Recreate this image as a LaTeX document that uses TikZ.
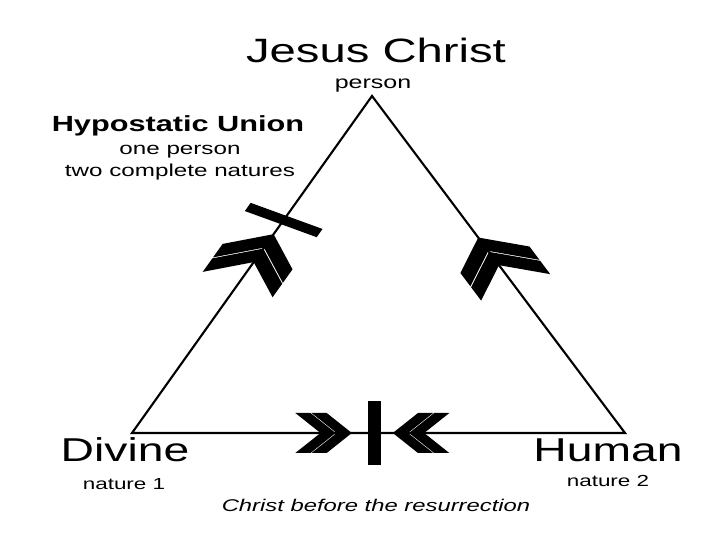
\documentclass[tikz,border=0pt]{standalone}
\usepackage{fontspec}
\setmainfont{Liberation Sans}[FakeStretch=1.4]

% a pair of filled chevrons, tip at #1, pointing along angle #2
\newcommand{\chevpair}[3]{%
  \begin{scope}[shift={(#1)}, xscale=1.4, rotate=#2, scale=#3]
    \foreach \d in {0,0.29}
      \fill[xshift=-\d cm] (0,0) -- (-0.45,0.5) -- (-0.72,0.5) -- (-0.27,0) -- (-0.72,-0.5) -- (-0.45,-0.5) -- cycle;
  \end{scope}}
% a thick bar across the line
\newcommand{\crossbar}[3]{%
  \fill[shift={(#1)}, xscale=1.4, rotate=#2] (-0.115,-#3) rectangle (0.115,#3);}

\begin{document}
\begin{tikzpicture}[edge/.style={line width=1.5pt, line join=miter},
  big/.style={font=\fontsize{24}{28}\selectfont, inner sep=0pt, anchor=base},
  small/.style={font=\fontsize{11.4}{13}\selectfont, inner sep=0pt, anchor=base}]
\useasboundingbox (0,0) rectangle (18,13.5);

\coordinate (top) at (9.3,11.1);
\coordinate (div) at (3.3,2.675);
\coordinate (hum) at (15.625,2.675);
\draw[edge] (div) -- (top) -- (hum) -- cycle;

\path (div) -- (top) coordinate[pos=0.59] (lchev) coordinate[pos=0.632] (lbar);
\path (hum) -- (top) coordinate[pos=0.58] (rchev);
\path (div) -- (hum) coordinate[pos=0.446] (bchevl) coordinate[pos=0.491] (bbar) coordinate[pos=0.529] (bchevr);

\chevpair{lchev}{63}{1.4}
\crossbar{lbar}{63}{0.72}
\chevpair{rchev}{118.2}{1.4}
\chevpair{bchevl}{0}{1}
\crossbar{bbar}{0}{0.79}
\chevpair{bchevr}{180}{1}

\node[big] (jesus) at (9.4,11.925) {Jesus Christ};
\node[small, font=\fontsize{12.7}{15}\selectfont] (person) at (9.325,11.275) {person};

\node[small, font=\bfseries\fontsize{15.6}{18}\selectfont] (union) at (4.45,10.2) {Hypostatic Union};
\node[small, font=\fontsize{12.3}{14}\selectfont] (one) at (4.5,9.625) {one person};
\node[small, font=\fontsize{12.3}{14}\selectfont] (two) at (4.5,9.075) {two complete natures};

\node[big, font=\fontsize{23.5}{28}\selectfont] (divine) at (3.125,1.96) {Divine};
\node[small] (nat1) at (3.1,1.27) {nature 1};
\node[big, font=\fontsize{23.5}{28}\selectfont] (human) at (15.2,1.96) {Human};
\node[small] (nat2) at (15.2,1.33) {nature 2};

\node[small, font=\itshape\fontsize{12.1}{14}\selectfont] (before) at (9.4,0.71) {Christ before the resurrection};
\end{tikzpicture}
\end{document}
